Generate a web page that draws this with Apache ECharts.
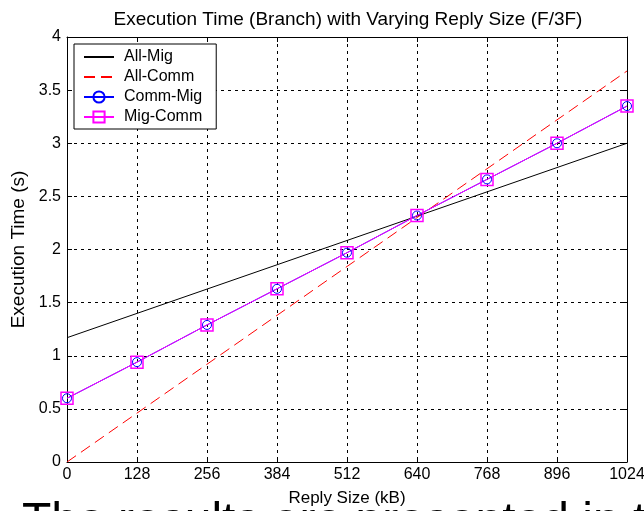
<!DOCTYPE html>
<html>
<head>
<meta charset="utf-8">
<script src="https://cdn.jsdelivr.net/npm/echarts@6/dist/echarts.min.js"></script>
<style>
  html, body { margin: 0; padding: 0; background: #fff; }
  #chart { width: 644px; height: 511px; }
</style>
</head>
<body>
<div id="chart"></div>
<script>
// reply size in kB
const replySizes = [0, 128, 256, 384, 512, 640, 768, 896, 1024];
// execution times in seconds
const allMig = [[0, 1.17], [1024, 3.0]];
const allComm = [[0, 0.0], [1024, 3.68]];
const commMig = [0.6, 0.94, 1.29, 1.63, 1.97, 2.32, 2.66, 3.0, 3.35];
const migComm = [0.6, 0.94, 1.29, 1.63, 1.97, 2.32, 2.66, 3.0, 3.35];

const font = "Arial, 'Liberation Sans', sans-serif";

const pairs = (ys) => replySizes.map((x, i) => [x, ys[i]]);

// extra top/right axes to close the box with inward ticks
const boxAxis = (type, pos) => ({
  type: "value",
  position: pos,
  min: 0,
  max: type === "x" ? 1024 : 4,
  interval: type === "x" ? 128 : 0.5,
  axisLine: { show: true, onZero: false, lineStyle: { color: "#000", width: 1 } },
  axisTick: { show: true, inside: true, length: 5, lineStyle: { color: "#000" } },
  axisLabel: { show: false },
  splitLine: { show: false },
});

const option = {
  animation: false,
  backgroundColor: "#fff",
  textStyle: { fontFamily: font },
  title: {
    text: "Execution Time (Branch) with Varying Reply Size (F/3F)",
    left: 343,
    textAlign: "center",
    top: 5,
    textStyle: { fontSize: 19, fontWeight: "normal", color: "#000", fontFamily: font },
  },
  grid: { left: 67, right: 17, top: 37, bottom: 49, outerBoundsMode: "none" },
  legend: {
    orient: "vertical",
    left: 74,
    top: 44,
    backgroundColor: "#fff",
    borderColor: "#000",
    borderWidth: 1,
    borderRadius: 0,
    padding: [5, 14, 4, 9],
    itemGap: 4,
    itemWidth: 30,
    itemHeight: 14,
    textStyle: { fontSize: 16, lineHeight: 16, color: "#000", fontFamily: font, padding: [0, 0, 0, 5] },
    data: [
      { name: "All-Mig", itemStyle: { opacity: 0 } },
      { name: "All-Comm", itemStyle: { opacity: 0 } },
      "Comm-Mig",
      "Mig-Comm",
    ],
  },
  xAxis: [
    {
      type: "value",
      min: 0,
      max: 1024,
      interval: 128,
      name: "Reply Size (kB)",
      nameLocation: "middle",
      nameGap: 28,
      nameTextStyle: { fontSize: 17, color: "#000" },
      axisLine: { onZero: false, lineStyle: { color: "#000", width: 1 } },
      axisTick: { inside: true, length: 5, lineStyle: { color: "#000" } },
      axisLabel: { fontSize: 16, color: "#000", margin: 5, formatter: (v) => String(v) },
      splitLine: { show: true, lineStyle: { color: "#000", type: [3, 4], width: 1 } },
    },
    boxAxis("x", "top"),
  ],
  yAxis: [
    {
      type: "value",
      min: 0,
      max: 4,
      interval: 0.5,
      name: "Execution Time (s)",
      nameLocation: "middle",
      nameGap: 38,
      nameTextStyle: { fontSize: 19, color: "#000" },
      axisLine: { show: true, onZero: false, lineStyle: { color: "#000", width: 1 } },
      axisTick: { show: true, inside: true, length: 5, lineStyle: { color: "#000" } },
      axisLabel: { fontSize: 16, color: "#000", margin: 6 },
      splitLine: { show: true, lineStyle: { color: "#000", type: [3, 4], width: 1 } },
    },
    boxAxis("y", "right"),
  ],
  series: [
    {
      name: "All-Mig",
      type: "line",
      data: allMig,
      symbol: "none",
      lineStyle: { color: "#000", width: 1 },
      itemStyle: { color: "#000" },
    },
    {
      name: "All-Comm",
      type: "line",
      data: allComm,
      symbol: "none",
      lineStyle: { color: "#ff0000", width: 1, type: [11, 6] },
      itemStyle: { color: "#ff0000" },
    },
    {
      name: "Comm-Mig",
      type: "line",
      data: pairs(commMig),
      symbol: "circle",
      symbolSize: 9,
      lineStyle: { color: "#0000ff", width: 1 },
      itemStyle: { color: "transparent", borderColor: "#0000ff", borderWidth: 1 },
    },
    {
      name: "Mig-Comm",
      type: "line",
      data: pairs(migComm),
      symbol: "rect",
      symbolSize: 12,
      lineStyle: { color: "#ff00ff", width: 1 },
      itemStyle: { color: "transparent", borderColor: "#ff00ff", borderWidth: 1.5 },
    },
  ],
  graphic: [
    {
      type: "text",
      left: 22,
      top: 499,
      silent: true,
      style: {
        text: "The results are presented in table",
        font: "48px " + font,
        fill: "#000",
      },
    },
  ],
};

const myChart = echarts.init(document.getElementById("chart"));
myChart.setOption(option);
</script>
</body>
</html>
